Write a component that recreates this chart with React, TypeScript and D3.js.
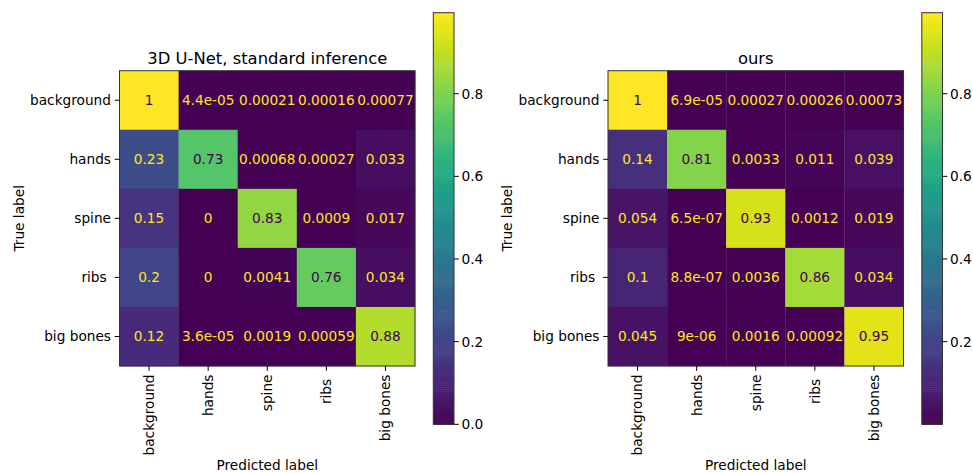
import React, { useEffect, useRef } from 'react';
import * as d3 from 'd3';

// class names ("ribs " keeps its trailing space, as in the source figure)
const labels = ['background', 'hands', 'spine', 'ribs ', 'big bones'];
const xLabels = ['background', 'hands', 'spine', 'ribs', 'big bones'];

// row-normalised confusion matrices (rows = true, cols = predicted)
const unetMatrix = [
  [0.996, 4.4e-05, 0.00021, 0.00016, 0.00077],
  [0.23, 0.73, 0.00068, 0.00027, 0.033],
  [0.15, 0, 0.83, 0.0009, 0.017],
  [0.2, 0, 0.0041, 0.76, 0.034],
  [0.12, 3.6e-05, 0.0019, 0.00059, 0.88],
];
const oursMatrix = [
  [0.996, 6.9e-05, 0.00027, 0.00026, 0.00073],
  [0.14, 0.81, 0.0033, 0.011, 0.039],
  [0.054, 6.5e-07, 0.93, 0.0012, 0.019],
  [0.1, 8.8e-07, 0.0036, 0.86, 0.034],
  [0.045, 9e-06, 0.0016, 0.00092, 0.95],
];
const titles = ['3D U-Net, standard inference', 'ours'];

const FONT = 'DejaVu Sans, sans-serif';
const FS = 13.7;

// python-style "%.2g"
const fmtG = (v: number) => {
  if (v === 0) return '0';
  const exp = Math.floor(Math.log10(Math.abs(v)));
  if (exp < -4 || exp >= 2) {
    let [m, e] = v.toExponential(1).split('e');
    m = m.replace(/\.?0+$/, '');
    const n = +e;
    const es = (n < 0 ? '-' : '+') + String(Math.abs(n)).padStart(2, '0');
    return m + 'e' + es;
  }
  let s = v.toPrecision(2);
  if (s.includes('.')) s = s.replace(/0+$/, '').replace(/\.$/, '');
  return s;
};

const drawPanel = (g: any, matrix: number[][], title: string) => {
  const x = d3.scaleBand().domain(d3.range(5).map(String)).range([119.5, 415]);
  const y = d3.scaleBand().domain(d3.range(5).map(String)).range([70.7, 366]);
  const flat = matrix.flat();
  const vmin = d3.min(flat) as number;
  const vmax = d3.max(flat) as number;
  const color = d3.scaleSequential(d3.interpolateViridis).domain([vmin, vmax]);
  const thresh = (vmin + vmax) / 2;

  const cells = flat.map((v, k) => ({ v, r: Math.floor(k / 5), c: k % 5 }));

  g.selectAll('rect.cell')
    .data(cells)
    .enter()
    .append('rect')
    .attr('x', d => x(String(d.c)))
    .attr('y', d => y(String(d.r)))
    .attr('width', x.bandwidth() + 0.3)
    .attr('height', y.bandwidth() + 0.3)
    .attr('fill', d => color(d.v));

  g.selectAll('text.val')
    .data(cells)
    .enter()
    .append('text')
    .attr('x', d => (x(String(d.c)) as number) + x.bandwidth() / 2)
    .attr('y', d => (y(String(d.r)) as number) + y.bandwidth() / 2)
    .attr('dy', '0.36em')
    .attr('text-anchor', 'middle')
    .attr('font-size', FS)
    .attr('fill', d => (d.v < thresh ? d3.interpolateViridis(1) : d3.interpolateViridis(0)))
    .text(d => fmtG(d.v));

  g.append('rect')
    .attr('x', 119.5)
    .attr('y', 70.7)
    .attr('width', 415 - 119.5)
    .attr('height', 366 - 70.7)
    .attr('fill', 'none')
    .attr('stroke', '#333')
    .attr('stroke-width', 1);

  // y ticks
  labels.forEach((lab, i) => {
    const cy = (y(String(i)) as number) + y.bandwidth() / 2;
    g.append('line').attr('x1', 119.5).attr('x2', 114.7).attr('y1', cy).attr('y2', cy).attr('stroke', '#000');
    g.append('text')
      .attr('x', 111)
      .attr('y', cy)
      .attr('dy', '0.36em')
      .attr('text-anchor', 'end')
      .attr('font-size', FS)
      .style('white-space', 'pre')
      .attr('fill', '#000')
      .text(lab);
  });

  // x ticks (rotated)
  labels.forEach((lab, i) => {
    const cx = (x(String(i)) as number) + x.bandwidth() / 2;
    g.append('line').attr('x1', cx).attr('x2', cx).attr('y1', 366).attr('y2', 370.8).attr('stroke', '#000');
    g.append('text')
      .attr('transform', `translate(${cx},374.5) rotate(-90)`)
      .attr('dy', '0.36em')
      .attr('text-anchor', 'end')
      .attr('font-size', FS)
      .style('white-space', 'pre')
      .attr('fill', '#000')
      .text(lab);
  });

  g.append('text')
    .attr('x', 267.3)
    .attr('y', 64)
    .attr('text-anchor', 'middle')
    .attr('font-size', 16.4)
    .text(title);

  g.append('text')
    .attr('x', 267.3)
    .attr('y', 470)
    .attr('text-anchor', 'middle')
    .attr('font-size', FS)
    .text('Predicted label');

  g.append('text')
    .attr('transform', 'translate(23.5,218.3) rotate(-90)')
    .attr('text-anchor', 'middle')
    .attr('font-size', FS)
    .text('True label');

  // colorbar
  const cbX = 433.3, cbW = 20.7, cbTop = 12.7, cbBot = 424.3;
  const cy = d3.scaleLinear().domain([vmin, vmax]).range([cbBot, cbTop]);
  const steps = d3.range(0, 1.0001, 1 / 200);
  g.selectAll('rect.cb')
    .data(steps.slice(0, -1))
    .enter()
    .append('rect')
    .attr('x', cbX)
    .attr('width', cbW)
    .attr('y', d => cy(vmin + (d + 1 / 200) * (vmax - vmin)))
    .attr('height', (cbBot - cbTop) / 200 + 0.5)
    .attr('fill', d => d3.interpolateViridis(d + 0.5 / 200));
  g.append('rect')
    .attr('x', cbX)
    .attr('y', cbTop)
    .attr('width', cbW)
    .attr('height', cbBot - cbTop)
    .attr('fill', 'none')
    .attr('stroke', '#333')
    .attr('stroke-width', 1);

  const ticks = d3.range(0, 1, 0.2).filter(t => t >= vmin && t <= vmax);
  ticks.forEach(t => {
    const ty = cy(t);
    g.append('line').attr('x1', cbX + cbW).attr('x2', cbX + cbW + 4.8).attr('y1', ty).attr('y2', ty).attr('stroke', '#000');
    g.append('text')
      .attr('x', cbX + cbW + 7.5)
      .attr('y', ty)
      .attr('dy', '0.36em')
      .attr('font-size', FS)
      .text(d3.format('.1f')(t));
  });
};

const App = () => {
  const ref = useRef<SVGSVGElement>(null);

  useEffect(() => {
    const svg = d3.select(ref.current);
    svg.selectAll('*').remove();
    const mats = [unetMatrix, oursMatrix];
    mats.forEach((m, i) => {
      const g = svg.append('g')
        .attr('transform', `translate(${i * 488.5},0)`)
        .attr('font-family', FONT);
      drawPanel(g, m, titles[i]);
    });
  }, []);

  return (
    <svg
      ref={ref}
      width={973}
      height={473}
      style={{ position: 'absolute', left: 0, top: 0, background: '#fff' }}
    />
  );
};

export default App;
